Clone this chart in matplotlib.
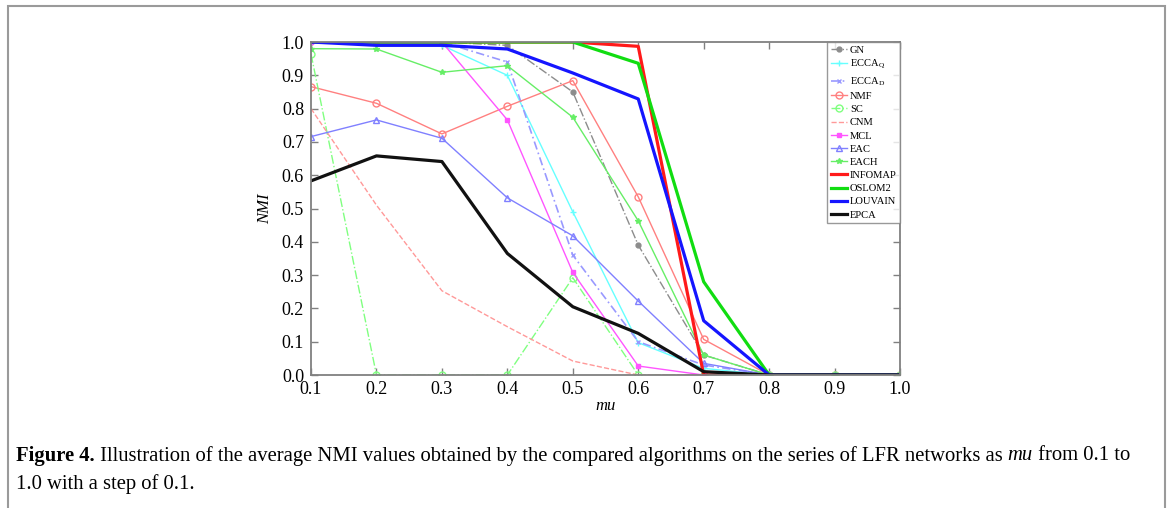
import matplotlib
matplotlib.use("Agg")
import matplotlib.pyplot as plt
from matplotlib.patches import Rectangle

plt.rcParams['font.family'] = ['Liberation Serif', 'DejaVu Serif']
plt.rcParams['mathtext.fontset'] = 'custom'
plt.rcParams['mathtext.rm'] = 'Liberation Serif'
plt.rcParams['mathtext.it'] = 'Liberation Serif:italic'
plt.rcParams['mathtext.bf'] = 'Liberation Serif:bold'

mu = [0.1, 0.2, 0.3, 0.4, 0.5, 0.6, 0.7, 0.8, 0.9, 1.0]

gn = [1.0, 1.0, 1.0, 0.99, 0.85, 0.39, 0.06, 0.0, 0.0, 0.0]
ecca_q = [1.0, 0.99, 0.99, 0.90, 0.49, 0.097, 0.02, 0.0, 0.0, 0.0]
ecca_d = [1.0, 1.0, 1.0, 0.94, 0.36, 0.10, 0.03, 0.0, 0.0, 0.0]
nmf = [0.866, 0.816, 0.724, 0.807, 0.884, 0.535, 0.107, 0.0, 0.0, 0.0]
sc = [0.964, 0.0, 0.0, 0.0, 0.292, 0.0, 0.0, 0.0, 0.0, 0.0]
cnm = [0.80, 0.51, 0.253, 0.145, 0.042, 0.0, 0.0, 0.0, 0.0, 0.0]
mcl = [1.0, 1.0, 1.0, 0.766, 0.308, 0.027, 0.0, 0.0, 0.0, 0.0]
eac = [0.716, 0.766, 0.711, 0.532, 0.418, 0.222, 0.035, 0.0, 0.0, 0.0]
each = [0.98, 0.979, 0.909, 0.929, 0.774, 0.463, 0.06, 0.0, 0.0, 0.0]
infomap = [1.0, 1.0, 1.0, 1.0, 1.0, 0.987, 0.0, 0.0, 0.0, 0.0]
oslom2 = [1.0, 1.0, 1.0, 1.0, 1.0, 0.936, 0.28, 0.0, 0.0, 0.0]
louvain = [1.0, 0.99, 0.99, 0.979, 0.907, 0.829, 0.163, 0.0, 0.0, 0.0]
epca = [0.583, 0.658, 0.641, 0.365, 0.205, 0.125, 0.01, 0.0, 0.0, 0.0]

fig = plt.figure(figsize=(11.71, 5.08), dpi=100)
ax = fig.add_axes([0.2656, 0.2618, 0.5030, 0.6555])

ax.plot(mu, gn, color='#8c8c8c', ls='-.', lw=1, marker='o', ms=3.5, label='GN')
ax.plot(mu, ecca_q, color='#66ffff', ls='-', lw=1, marker='+', ms=4, label=r'ECCA$_\mathrm{Q}$')
ax.plot(mu, ecca_d, color='#9999ff', ls=(0, (5, 2, 1, 2)), lw=1.2, marker='x', ms=2.5, label=r'ECCA$_\mathrm{D}$')
ax.plot(mu, nmf, color='#ff8080', ls='-', lw=1, marker='o', ms=5, mfc='none', label='NMF')
ax.plot(mu, sc, color='#80ff80', ls='-.', lw=1, marker='o', ms=5, mfc='none', label='SC')
ax.plot(mu, cnm, color='#ff9999', ls='--', lw=1, label='CNM')
ax.plot(mu, mcl, color='#ff55ff', ls='-', lw=1, marker='s', ms=2.5, label='MCL')
ax.plot(mu, eac, color='#8080ff', ls='-', lw=1, marker='^', ms=4, mfc='none', label='EAC')
ax.plot(mu, each, color='#66ee66', ls='-', lw=1, marker='*', ms=4, label='EACH')
ax.plot(mu, infomap, color='#ff1a1a', ls='-', lw=2.3, label='INFOMAP')
ax.plot(mu, oslom2, color='#11dd11', ls='-', lw=2.3, label='OSLOM2')
ax.plot(mu, louvain, color='#1515ff', ls='-', lw=2.3, label='LOUVAIN')
ax.plot(mu, epca, color='#111111', ls='-', lw=2.3, label='EPCA')

ax.set_xlim(0.1, 1.0)
ax.set_ylim(0.0, 1.0)
ax.set_xticks(mu)
ax.set_xticklabels(['%.1f' % v for v in mu])
yt = [i / 10 for i in range(11)]
ax.set_yticks(yt)
ax.set_yticklabels(['%.1f' % v for v in yt])
ax.tick_params(direction='in', top=True, right=True, length=5, width=1,
               color='#808080', labelsize=13)
ax.tick_params(axis='x', pad=4)
ax.tick_params(axis='y', pad=5)
for s in ax.spines.values():
    s.set_color('#808080')
    s.set_linewidth(1.3)

ax.set_xlabel('mu', fontstyle='italic', fontsize=12, labelpad=0)
ax.set_ylabel('NMI', fontstyle='italic', fontsize=12, labelpad=6)

leg = ax.legend(loc='upper right', fontsize=7.6, frameon=True, fancybox=False,
                edgecolor='#808080', borderpad=0.3, labelspacing=0.36,
                handlelength=1.6, handletextpad=0.25, borderaxespad=0.0)
leg.get_frame().set_linewidth(1.0)

# outer frame of the figure panel
fig.patches.append(Rectangle((8 / 1171, -0.05), 1157 / 1171, 1 - 6 / 508 + 0.05,
                             transform=fig.transFigure, fill=False,
                             edgecolor='#9a9a9a', lw=1.5))

fs = 14.9
y1 = 1 - 456 / 508
cap = fig.text(16 / 1171, y1, 'Figure 4.', fontweight='bold',
               fontsize=fs, va='center', ha='left')
cap2 = fig.text(0, y1, ' Illustration of the average NMI values obtained by the compared '
                'algorithms on the series of LFR networks as ', fontsize=fs,
                va='center', ha='left')
fig.canvas.draw()
r = fig.canvas.get_renderer()
bb = cap.get_window_extent(r)
cap2.set_position((bb.x1 / fig.bbox.width, y1))
bb2 = cap2.get_window_extent(r)
cap3 = fig.text(bb2.x1 / fig.bbox.width, y1, 'mu', fontstyle='italic',
                fontsize=fs, va='center', ha='left')
bb3 = cap3.get_window_extent(r)
fig.text(bb3.x1 / fig.bbox.width, y1, ' from 0.1 to',
         fontsize=fs, va='center', ha='left')
fig.text(16 / 1171, 1 - 484 / 508, '1.0 with a step of 0.1.',
         fontsize=fs, va='center', ha='left')

fig.savefig('out.png', dpi=100)
